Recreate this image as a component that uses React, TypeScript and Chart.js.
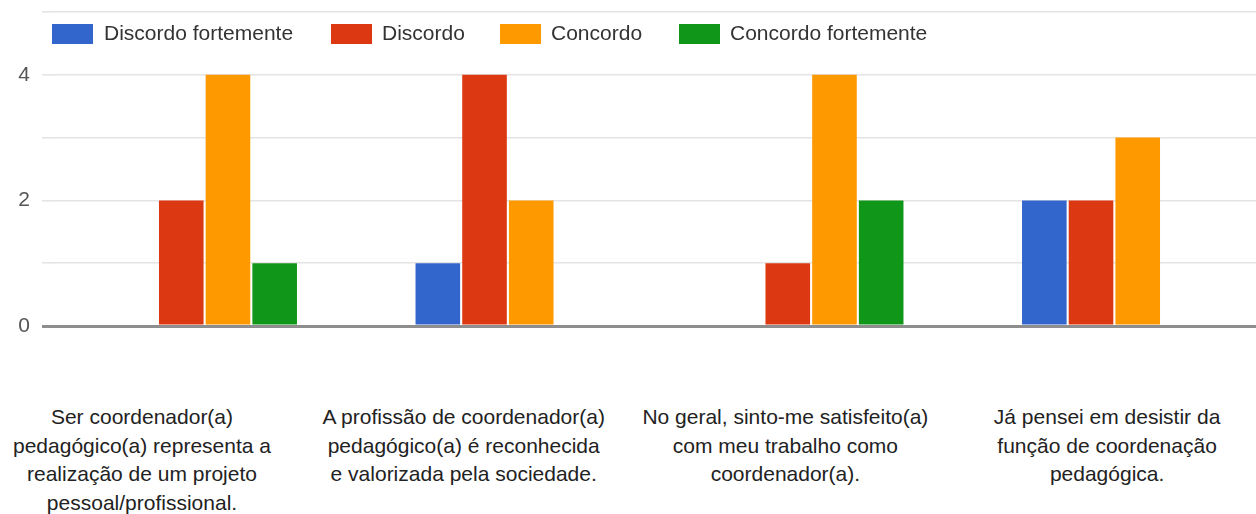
import React, { useEffect, useRef } from "react";
import { Chart, registerables } from "chart.js";

Chart.register(...registerables);

const seriesNames = ["Discordo fortemente", "Discordo", "Concordo", "Concordo fortemente"];
const seriesColors = ["#3366cc", "#dc3912", "#ff9900", "#109618"];

const discordoFortemente = [0, 1, 0, 2];
const discordo = [2, 4, 1, 2];
const concordo = [4, 2, 4, 3];
const concordoFortemente = [1, 0, 2, 0];

const categoryLines: string[][] = [
  ["Ser coordenador(a)", "pedagógico(a) representa a", "realização de um projeto", "pessoal/profissional."],
  ["A profissão de coordenador(a)", "pedagógico(a) é reconhecida", "e valorizada pela sociedade."],
  ["No geral, sinto-me satisfeito(a)", "com meu trabalho como", "coordenador(a)."],
  ["Já pensei em desistir da", "função de coordenação", "pedagógica."],
];
const categories = categoryLines.map((l) => l.join(" "));

const yTickLabels = [0, 2, 4];

const FONT = '"Liberation Sans", Arial, sans-serif';

const legendPlugin = {
  id: "topLegend",
  afterDraw(chart: any) {
    const ctx = chart.ctx;
    const items = [
      { box: 52, text: 104 },
      { box: 331, text: 382 },
      { box: 500, text: 551 },
      { box: 679, text: 730 },
    ];
    ctx.save();
    ctx.font = `21px ${FONT}`;
    ctx.textBaseline = "middle";
    ctx.textAlign = "left";
    items.forEach((it, i) => {
      ctx.fillStyle = seriesColors[i];
      ctx.fillRect(it.box, 24, 41, 20);
      ctx.fillStyle = "#333333";
      ctx.fillText(seriesNames[i], it.text, 34);
    });
    ctx.restore();
  },
};

export default function App() {
  const ref = useRef<HTMLCanvasElement | null>(null);

  useEffect(() => {
    if (!ref.current) return;
    const series = [discordoFortemente, discordo, concordo, concordoFortemente];
    const chart = new Chart(ref.current, {
      type: "bar",
      data: {
        labels: categories,
        datasets: series.map((d, i) => ({
          label: seriesNames[i],
          data: d,
          backgroundColor: seriesColors[i],
          borderWidth: 0,
          categoryPercentage: 0.616,
          barPercentage: 0.955,
        })),
      },
      options: {
        animation: false,
        responsive: false,
        maintainAspectRatio: false,
        layout: { padding: { top: 12, right: 1, bottom: 0, left: 0 } },
        plugins: {
          legend: { display: false },
          tooltip: { enabled: false },
        },
        scales: {
          x: {
            grid: { display: false },
            border: { display: false },
            ticks: { display: false },
            afterFit: (axis: any) => {
              axis.height = 14;
            },
          },
          y: {
            min: 0,
            max: 5,
            border: { display: false },
            ticks: {
              stepSize: 1,
              padding: 12,
              color: "#555555",
              font: { family: FONT, size: 21 },
              callback: (v: any) => (yTickLabels.includes(Number(v)) ? String(v) : ""),
            },
            grid: {
              tickLength: 11,
              color: (c: any) => (c.tick && c.tick.value === 0 ? "#8e8e8e" : "#e4e4e4"),
              tickColor: (c: any) => (c.tick && c.tick.value === 0 ? "#8e8e8e" : "#e4e4e4"),
              lineWidth: (c: any) => (c.tick && c.tick.value === 0 ? 3 : 1.6),
            },
            afterFit: (axis: any) => {
              axis.width = 53;
              axis.paddingTop = 0;
              axis.paddingBottom = 0;
            },
          },
        },
      },
      plugins: [legendPlugin],
    });
    return () => chart.destroy();
  }, []);

  return (
    <div
      style={{
        position: "fixed",
        left: 0,
        top: 0,
        width: 1256,
        height: 514,
        overflow: "hidden",
        background: "#ffffff",
      }}
    >
      <canvas ref={ref} width={1267} height={340} style={{ position: "absolute", left: 0, top: 0 }} />
      {categoryLines.map((lines, i) => (
        <div
          key={i}
          style={{
            position: "absolute",
            top: 403,
            left: 142 - 160 + i * 321.7,
            width: 320,
            textAlign: "center",
            fontFamily: FONT,
            fontSize: 21,
            lineHeight: "28.5px",
            color: "#222222",
          }}
        >
          {lines.map((l, j) => (
            <div key={j}>{l}</div>
          ))}
        </div>
      ))}
    </div>
  );
}
